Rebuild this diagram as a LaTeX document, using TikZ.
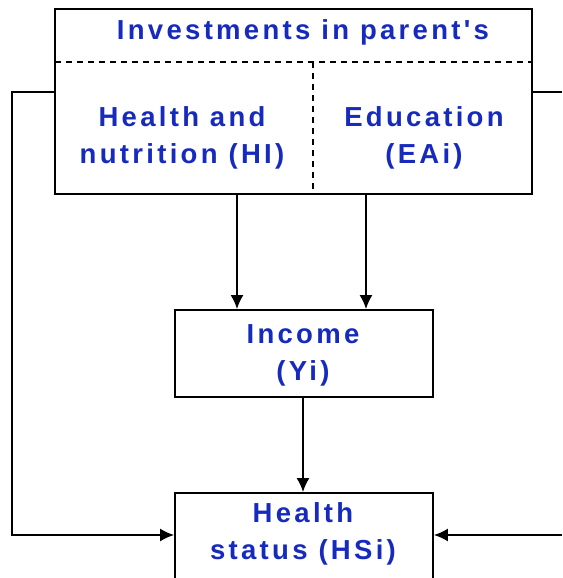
\documentclass[tikz,border=0pt]{standalone}
\usepackage{fontspec}
\setmainfont{Liberation Sans}
\newfontfamily\lblfont[LetterSpace=12]{Liberation Sans}
\usetikzlibrary{arrows.meta}
\definecolor{txtblue}{RGB}{22,42,190}
\tikzset{
  box/.style={draw=black, line width=1.8pt, fill=white, inner sep=0pt},
  lbl/.style={text=txtblue, align=center, inner sep=0pt, font=\lblfont\bfseries\fontsize{27.5}{37}\selectfont},
  conn/.style={draw=black, line width=1.8pt},
  arr/.style={conn, -{Latex[length=14pt,width=13pt]}},
  sep/.style={draw=black, line width=1.4pt, dash pattern=on 6pt off 5pt}
}
\begin{document}
\begin{tikzpicture}[x=1pt,y=-1pt]
\useasboundingbox (0,0) rectangle (562,578);
\clip (0,0) rectangle (562,578);
\fill[white] (0,0) rectangle (562,578);
% boxes
\node[box, minimum width=477pt, minimum height=185pt] (top) at (293.5,101.5) {};
\node[box, minimum width=258pt, minimum height=87pt] (inc) at (304,353.5) {};
\node[box, minimum width=258pt, minimum height=110pt] (hs) at (304,548) {};
% separators inside top box
\coordinate (d1) at (55,62);
\coordinate (d2) at (532,62);
\coordinate (d3) at (313,62);
\coordinate (d4) at (313,194);
\draw[sep] (d1) -- (d2);
\draw[sep] (d3) -- (d4);
% labels
\node[lbl] (t1) at (303,32) {Investments in parent's};
\node[lbl] (t2) at (182,138) {Health and\\nutrition (HI)};
\node[lbl] (t3) at (424,138) {Education\\(EAi)};
\node[lbl] (t4) at (303,355) {Income\\(Yi)};
\node[lbl] (t5) at (303,534) {Health\\status (HSi)};
% arrows from top box to income
\draw[arr] (top.south -| 237,0) -- (inc.north -| 237,0);
\draw[arr] (top.south -| 366,0) -- (inc.north -| 366,0);
% income to health status
\draw[arr] (inc.south -| 303,0) -- (hs.north -| 303,0);
% left loop
\coordinate (lc1) at (12,92);
\coordinate (lc2) at (12,535);
\draw[arr] (top.west |- lc1) -- (lc1) -- (lc2) -- (hs.west |- lc2);
% right stubs
\coordinate (rc1) at (562,92);
\coordinate (rc2) at (562,535);
\draw[conn] (top.east |- rc1) -- (rc1);
\draw[arr] (rc2) -- (hs.east |- rc2);
\end{tikzpicture}
\end{document}
